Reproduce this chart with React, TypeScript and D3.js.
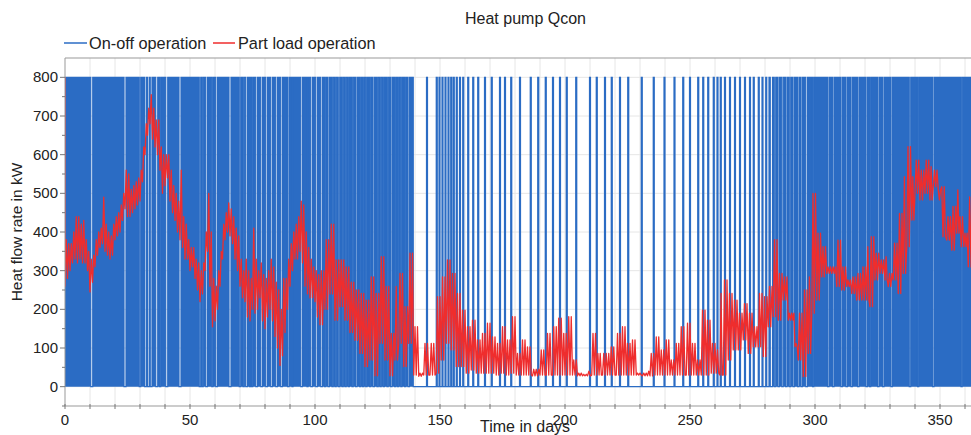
import React from "react";
import * as d3 from "d3";

// ---------- data ----------
const xTickLabels = [0, 50, 100, 150, 200, 250, 300, 350];
const yTickLabels = [0, 100, 200, 300, 400, 500, 600, 700, 800];
const onLevel = 800;
const offLevel = 0;

// continuous "on" blocks (days) with short off gaps
const onBlocks: [number, number][] = [
  [0, 139.3],
  [283, 366],
];
const offGaps: [number, number][] = [
  [10.3, 11.1], [23.6, 24.4], [29.7, 30.3], [31.8, 32.5], [33, 33.7], [34.1, 34.8], [36.3, 37.1], [37.8, 38.3],
  [40.3, 41.1], [45.6, 46.4], [53.7, 54.3], [54.8, 55.3], [56.3, 57], [58.7, 59.2], [60.3, 61], [65.6, 66.4],
  [69.7, 70.3], [71.2, 71.7], [72.3, 73], [73.8, 74.2], [74.6, 75.1], [76.3, 77], [78.3, 79], [80.3, 81],
  [82.3, 83], [84.3, 85], [86.3, 87], [89, 89.6], [90.8, 91.2], [94.3, 95], [96.8, 97.2], [98.3, 99],
  [100.3, 101], [102.3, 103], [103.8, 104.3], [105.2, 105.8], [106.8, 107.3], [108, 108.5], [109.3, 109.9],
  [110.8, 111.3], [112, 112.5], [113.3, 113.8], [114.8, 115.3], [116.2, 116.8], [117.8, 118.3], [119, 119.5],
  [120.3, 120.8], [121.8, 122.3], [123.2, 123.8], [124.8, 125.3], [126, 126.5], [127.3, 127.8], [128.8, 129.3],
  [130.2, 130.8], [131.8, 132.3], [133, 133.5], [134.3, 134.8], [135.8, 136.3], [137.2, 137.8],
  [283.7, 284.3], [285.2, 285.8], [286.7, 287.3], [288.2, 288.8], [289.7, 290.3], [291.2, 291.8], [293, 293.6],
  [294.4, 295], [296.3, 297], [299, 299.5], [305, 305.6], [307, 307.6], [310.4, 311], [312.4, 313], [314.4, 315],
  [317, 317.6], [320.4, 321], [321.8, 322.3], [325, 325.6], [327, 327.6], [330.4, 331], [337.7, 338.3],
  [341, 341.5], [347, 347.6], [358.4, 358.9],
];
// short "on" pulses in the summer period (start, end in days)
const onPulses: [number, number][] = [
  [144.6, 145], [148.5, 148.9], [149.6, 150], [150.8, 151.2], [152, 152.4], [153.2, 153.6], [154.3, 154.7],
  [155.3, 155.7], [156.5, 156.9], [157.8, 158.2], [159.1, 159.5], [161.1, 161.5], [163.1, 163.5], [165.1, 165.5],
  [167.8, 168.2], [170.5, 170.9], [173.8, 174.2], [175.8, 176.2], [178.3, 178.7], [181.8, 182.2], [186.1, 186.5],
  [189.1, 189.5], [192.1, 192.5], [195, 195.4], [197.8, 198.2], [200.5, 200.9], [204.3, 204.7], [209.8, 210.2],
  [212.5, 212.9], [215.8, 216.2], [218.5, 218.9], [221.8, 222.2], [225.1, 225.5], [230.5, 230.9], [235.3, 235.7],
  [239.6, 240], [243.6, 244], [247.1, 247.5], [249.8, 250.2], [253.1, 253.5], [255.1, 255.5], [257.1, 257.5],
  [259.3, 259.7], [260.8, 261.2], [262.1, 262.5], [263.8, 264.2], [265.8, 266.2], [267.8, 268.2], [269.8, 270.2],
  [271.8, 272.2], [273.8, 274.2], [275.3, 275.7], [277.3, 277.7], [278.8, 279.2], [280.3, 280.7], [281.6, 282.1],
];

// part load operation: start value, then sampled low / high envelope
const redInitial = 800;
const redDay = [
  0, 1, 2, 3, 4, 5, 6, 7, 8, 9, 10, 11, 12, 13, 14, 15, 16, 17, 18, 19, 20, 21, 22, 23, 24, 25, 26, 27, 28, 29,
  30, 31, 32, 33, 34, 35, 36, 37, 38, 39, 40, 41, 42, 43, 44, 45, 46, 47, 48, 49, 50, 51, 52, 53, 54, 55, 56, 57,
  58, 59, 60, 61, 62, 63, 64, 65, 66, 67, 68, 69, 70, 71, 72, 73, 74, 75, 76, 77, 78, 79, 80, 81, 82, 83, 84, 85,
  86, 87, 88, 89, 90, 91, 92, 93, 94, 95, 96, 97, 98, 99, 100, 101, 102, 104, 106, 108, 110, 112, 114, 116, 118,
  120, 122, 124, 126, 128, 130, 132, 133.5, 135.5, 137.5, 139.5, 141.5, 143.5, 146, 148.5, 150.5, 152.5, 154.5,
  156.5, 158.5, 160.5, 162.5, 164.5, 166.5, 168.5, 170.5, 172.5, 174.5, 176.5, 178.5, 180.5, 182.5, 184.5, 187,
  190, 192.5, 195, 197, 199, 201, 203, 205, 207, 209, 210.7, 212.7, 215, 218, 220.5, 222.5, 224.5, 226.5, 228.5,
  231, 233, 234, 236, 238, 240, 242, 244, 246, 248.5, 250.5, 252.5, 254.5, 256.5, 258.5, 260.5, 262, 263.3, 265.3,
  267.3, 269.3, 271.3, 273.3, 275.3, 277.3, 279.3, 281.3, 283.3, 285.3, 287.3, 289.3, 290.7, 292, 293.3, 295.3,
  297.3, 298.7, 300.7, 302.7, 304.7, 306.7, 308.7, 310.7, 312.7, 314.7, 316.7, 318.7, 320.7, 322, 324, 326, 328,
  329.3, 331.3, 333.3, 335.3, 336.7, 338.7, 340, 342, 344, 346, 347.3, 349.3, 350.7, 352.7, 354.7, 356.7, 358,
  360, 361.3, 363, 365,
];
const redLow = [
  260, 280, 300, 320, 330, 320, 330, 320, 320, 300, 245, 270, 310, 340, 360, 370, 350, 340, 330, 340, 380, 390,
  400, 430, 460, 440, 440, 450, 460, 470, 480, 530, 600, 650, 680, 640, 620, 600, 560, 500, 520, 540, 480, 450,
  430, 400, 380, 360, 330, 330, 300, 310, 280, 250, 220, 240, 300, 350, 260, 155, 170, 200, 260, 330, 380, 400,
  390, 370, 330, 300, 260, 230, 220, 180, 170, 200, 190, 200, 230, 170, 150, 180, 200, 170, 130, 100, 55, 80,
  140, 200, 260, 300, 330, 330, 350, 320, 260, 240, 230, 230, 220, 180, 160, 200, 240, 172, 207, 172, 140, 120,
  86, 52, 69, 28, 112, 69, 28, 69, 112, 52, 112, 30, 27, 30, 30, 35, 69, 112, 95, 52, 52, 35, 43, 35, 35, 35, 35,
  30, 35, 30, 35, 30, 30, 30, 28, 30, 30, 30, 30, 30, 30, 30, 28, 28, 28, 30, 30, 30, 30, 30, 30, 30, 30, 30, 28,
  28, 28, 30, 30, 30, 30, 30, 30, 30, 30, 30, 30, 30, 35, 35, 30, 30, 69, 95, 95, 121, 86, 103, 103, 78, 155,
  181, 172, 224, 172, 190, 103, 69, 26, 86, 190, 224, 284, 293, 293, 259, 250, 259, 241, 224, 224, 224, 207,
  276, 293, 276, 259, 276, 241, 293, 362, 431, 500, 483, 500, 483, 517, 509, 517, 379, 353, 397, 440, 397, 310,
  302, 414, 300, 320,
];
const redHigh = [
  380, 370, 370, 400, 440, 440, 420, 430, 380, 350, 330, 340, 380, 400, 410, 490, 420, 400, 390, 420, 440, 450,
  470, 500, 560, 550, 510, 520, 530, 540, 560, 620, 680, 720, 755, 720, 690, 690, 620, 600, 600, 600, 560, 520,
  500, 480, 560, 440, 420, 380, 360, 360, 330, 320, 300, 320, 400, 500, 400, 280, 260, 300, 350, 420, 450, 475,
  460, 440, 410, 390, 330, 300, 330, 300, 280, 410, 330, 300, 320, 290, 280, 300, 330, 310, 270, 250, 200, 280,
  280, 330, 370, 400, 420, 440, 480, 470, 400, 360, 330, 310, 300, 290, 300, 380, 420, 328, 328, 310, 270, 250,
  241, 224, 284, 241, 336, 259, 138, 259, 293, 207, 345, 155, 35, 112, 112, 233, 284, 328, 293, 241, 198, 155,
  172, 121, 138, 164, 129, 112, 155, 121, 181, 86, 121, 103, 45, 95, 138, 155, 177, 138, 181, 69, 35, 32, 40,
  138, 86, 86, 103, 138, 155, 112, 121, 35, 35, 40, 86, 129, 95, 121, 69, 112, 155, 164, 112, 69, 198, 172, 112,
  95, 241, 276, 241, 224, 190, 215, 190, 155, 241, 233, 259, 380, 293, 284, 190, 172, 112, 190, 250, 284, 500,
  397, 362, 310, 310, 379, 310, 276, 284, 293, 310, 362, 388, 345, 328, 336, 293, 371, 448, 543, 621, 543, 586,
  560, 586, 569, 560, 483, 388, 440, 466, 509, 362, 362, 491, 440, 480,
];

// ---------- layout ----------
const W = 971;
const H = 435;
const FONT = "'Liberation Sans', Arial, sans-serif";
const BLUE = "#2b6cc4";
const RED = "#ef2d2d";

export default function App() {
  const x = d3.scaleLinear().domain([0, 365]).range([65, 977.5]);
  const y = d3.scaleLinear().domain([-50, 850]).range([406, 58]);
  const [x0, x1] = [65, 977.5];
  const [yTop, yBot] = [58, 406];

  // build on-intervals
  const intervals: [number, number][] = [];
  onBlocks.forEach(([a, b]) => {
    let cur = a;
    offGaps
      .filter(([s]) => s >= a && s <= b)
      .sort((p, q) => p[0] - q[0])
      .forEach(([s, e]) => {
        intervals.push([cur, s]);
        cur = e;
      });
    intervals.push([cur, b]);
  });
  onPulses.forEach((p) => intervals.push(p));
  intervals.sort((p, q) => p[0] - q[0]);

  const bluePts: [number, number][] = [[0, offLevel]];
  intervals.forEach(([s, e]) => {
    bluePts.push([s, offLevel], [s, onLevel], [e, onLevel], [e, offLevel]);
  });
  bluePts.push([366, offLevel]);
  const line = d3
    .line<[number, number]>()
    .x((d) => x(d[0]))
    .y((d) => y(d[1]));
  const bluePath = line(bluePts) || "";

  const redPts: [number, number][] = [[0, redInitial]];
  for (let i = 0; i < redDay.length; i++) {
    const d0 = redDay[i];
    const d1 = i < redDay.length - 1 ? redDay[i + 1] : d0 + 1.5;
    const gap = d1 - d0;
    const k = Math.max(2, Math.round(gap / 0.5));
    for (let j = 0; j < k; j++) {
      redPts.push([d0 + (gap * j) / k, j % 2 === 0 ? redLow[i] : redHigh[i]]);
    }
  }
  const redPath = line(redPts) || "";

  const vGrid = d3.range(10, 370, 10);
  const hGrid = d3.range(0, 900, 100);
  const yMinor = d3.range(-50, 850, 100);

  return (
    <svg width={W} height={H} style={{ position: "absolute", left: 0, top: 0, background: "#fff" }} fontFamily={FONT}>
      <defs>
        <clipPath id="plot">
          <rect x={x0} y={yTop} width={x1 - x0} height={yBot - yTop} />
        </clipPath>
      </defs>
      <rect x={0} y={0} width={W} height={H} fill="#fff" />
      {/* title */}
      <text x={525.5} y={24} textAnchor="middle" fontSize={16} fill="#222">
        Heat pump Qcon
      </text>
      {/* legend */}
      <line x1={64} x2={87} y1={43} y2={43} stroke={BLUE} strokeWidth={1.5} />
      <text x={89} y={48.5} fontSize={16.3} fill="#222">
        On-off operation
      </text>
      <line x1={213} x2={235} y1={43} y2={43} stroke={RED} strokeWidth={1.5} />
      <text x={238} y={48.5} fontSize={16.3} fill="#222">
        Part load operation
      </text>

      {/* grid */}
      <g stroke="#e6e6e6" strokeWidth={1}>
        {vGrid.map((d) => (
          <line key={"v" + d} x1={x(d)} x2={x(d)} y1={yTop} y2={yBot} />
        ))}
        {hGrid.map((d) => (
          <line key={"h" + d} x1={x0} x2={W} y1={y(d)} y2={y(d)} />
        ))}
      </g>

      <g clipPath="url(#plot)">
        <path d={bluePath} fill={BLUE} stroke={BLUE} strokeWidth={1.2} strokeLinejoin="miter" />
        <path d={redPath} fill="none" stroke={RED} strokeWidth={1.3} strokeLinejoin="round" />
      </g>

      {/* frame */}
      <line x1={x0} x2={W} y1={yTop} y2={yTop} stroke="#999" strokeWidth={1} />
      <line x1={x0} x2={x0} y1={yTop} y2={yBot} stroke="#999" strokeWidth={1} />
      <line x1={x0} x2={W} y1={yBot} y2={yBot} stroke="#999" strokeWidth={1} />

      {/* y axis */}
      {yTickLabels.map((v) => (
        <g key={"yt" + v}>
          <line x1={x0 - 5} x2={x0} y1={y(v)} y2={y(v)} stroke="#777" />
          <text x={x0 - 7} y={y(v) + 5} textAnchor="end" fontSize={15} fill="#222">
            {v}
          </text>
        </g>
      ))}
      {yMinor.map((v) => (
        <line key={"ym" + v} x1={x0 - 3} x2={x0} y1={y(v)} y2={y(v)} stroke="#777" />
      ))}
      <text
        transform={`translate(22,${232}) rotate(-90)`}
        textAnchor="middle"
        fontSize={15.5}
        fill="#222"
      >
        Heat flow rate in kW
      </text>

      {/* x axis */}
      {vGrid.concat([0]).map((d) => (
        <line key={"xt" + d} x1={x(d)} x2={x(d)} y1={yBot - 2} y2={yBot + 3} stroke="#777" />
      ))}
      {xTickLabels.map((d) => (
        <text key={"xl" + d} x={x(d)} y={425} textAnchor="middle" fontSize={15} fill="#222">
          {d}
        </text>
      ))}
      <text x={480} y={432} fontSize={16} fill="#222">
        Time in days
      </text>
    </svg>
  );
}
